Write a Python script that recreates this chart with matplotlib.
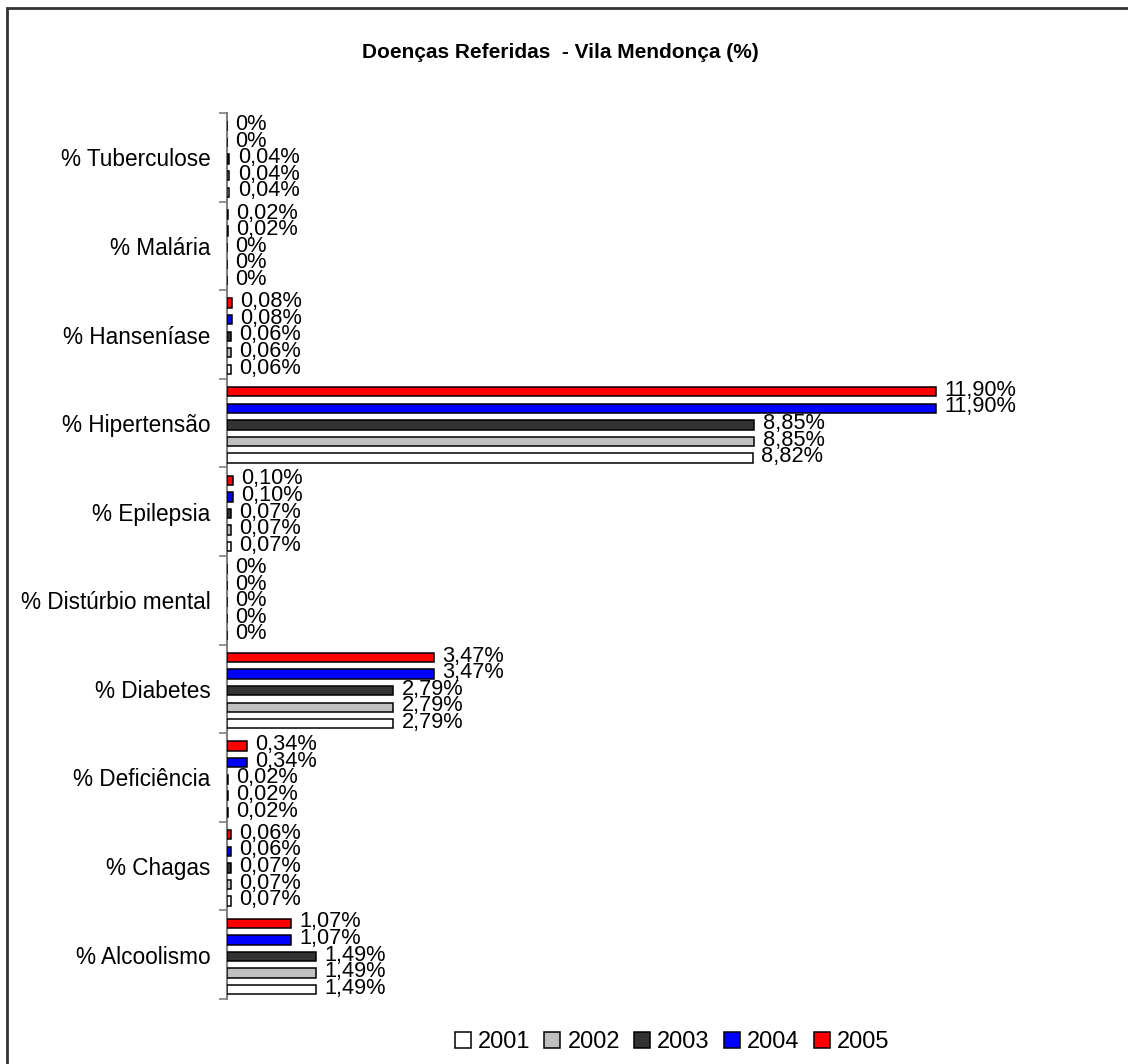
import matplotlib
matplotlib.use("Agg")
import matplotlib.pyplot as plt
from matplotlib.patches import Rectangle, Patch

plt.rcParams['font.family'] = ['Liberation Sans', 'DejaVu Sans']

# Categories listed bottom to top
categories = ["% Alcoolismo", "% Chagas", "% Deficiência", "% Diabetes",
              "% Distúrbio mental", "% Epilepsia", "% Hipertensão",
              "% Hanseníase", "% Malária", "% Tuberculose"]
years = ["2001", "2002", "2003", "2004", "2005"]

v2001 = [1.49, 0.07, 0.02, 2.79, 0.0, 0.07, 8.82, 0.06, 0.0, 0.04]
v2002 = [1.49, 0.07, 0.02, 2.79, 0.0, 0.07, 8.85, 0.06, 0.0, 0.04]
v2003 = [1.49, 0.07, 0.02, 2.79, 0.0, 0.07, 8.85, 0.06, 0.0, 0.04]
v2004 = [1.07, 0.06, 0.34, 3.47, 0.0, 0.10, 11.90, 0.08, 0.02, 0.0]
v2005 = [1.07, 0.06, 0.34, 3.47, 0.0, 0.10, 11.90, 0.08, 0.02, 0.0]
series = [v2001, v2002, v2003, v2004, v2005]
colors = ["#FFFFFF", "#C0C0C0", "#333333", "#0000FF", "#FF0000"]

FS = 16.3       # category labels
FS_VAL = 15.7   # value labels

W, H = 1128, 1064
fig = plt.figure(figsize=(W / 100, H / 100), dpi=100)

# outer frame of the chart area
fig.patches.append(Rectangle((7 / W, -0.5), 2.0, 1.5 - 8 / H,
                             transform=fig.transFigure, fill=False,
                             edgecolor="#333333", linewidth=2))

ax = fig.add_axes([227 / W, 65 / H, (1100 - 227) / W, (999 - 113) / H])

pitch = 0.187
bar_h = 0.105
shift = -0.02

def fmt(v):
    if v == 0:
        return "0%"
    return f"{v:.2f}".replace(".", ",") + "%"

for i, (vals, col) in enumerate(zip(series, colors)):
    pos = [c + (i - 2) * pitch + shift for c in range(len(categories))]
    ax.barh(pos, vals, height=bar_h, color=col, edgecolor="black",
            linewidth=1.1, zorder=3)
    for p, v in zip(pos, vals):
        ax.annotate(fmt(v), xy=(v, p), xytext=(6, 1),
                    textcoords="offset points", ha="left", va="center",
                    fontsize=FS_VAL, color="black")

ax.set_xlim(0, 14.65)
ax.set_ylim(-0.5, len(categories) - 0.5)

ax.set_yticks(range(len(categories)))
ax.set_yticklabels(categories, fontsize=FS)
ax.set_yticks([k - 0.5 for k in range(len(categories) + 1)], minor=True)
ax.tick_params(axis="y", which="major", length=0, pad=12)
ax.tick_params(axis="y", which="minor", length=6, width=1.2, color="#808080")
ax.set_xticks([])

for s in ["top", "right", "bottom"]:
    ax.spines[s].set_visible(False)
ax.spines["left"].set_color("#808080")
ax.spines["left"].set_linewidth(1.5)

fig.text(560 / W, 1 - 53 / H, "Doenças Referidas  - Vila Mendonça (%)",
         ha="center", va="center", fontsize=15, fontweight="bold")

handles = [Patch(facecolor=c, edgecolor="black", linewidth=1.1) for c in colors]
fig.legend(handles, years, loc="center", bbox_to_anchor=(672 / W, 1 - 1042 / H),
           ncol=5, frameon=False, fontsize=17, handlelength=0.68,
           handleheight=0.68, handletextpad=0.3, columnspacing=0.6)

fig.savefig("out.png", dpi=100)
